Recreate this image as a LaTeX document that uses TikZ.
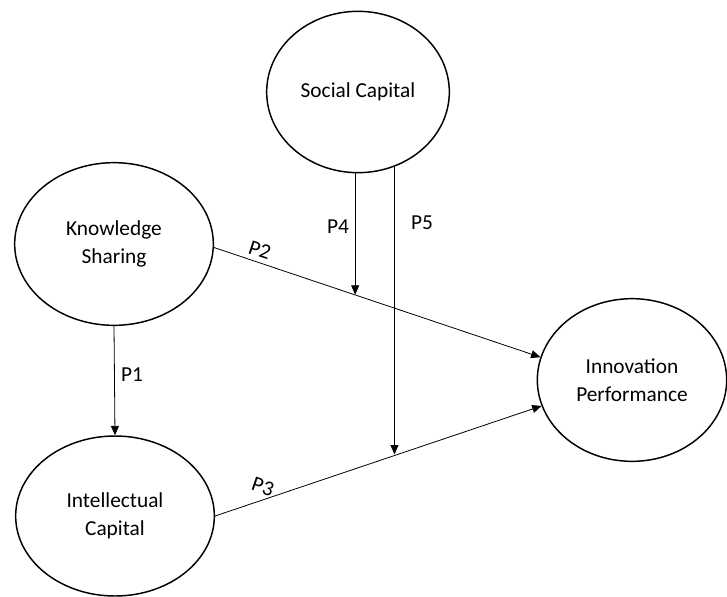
\documentclass[tikz,border=0pt]{standalone}
\usepackage{fontspec}
\setmainfont{Carlito}
\usepackage{tikz}
\usetikzlibrary{shapes.geometric, arrows.meta, positioning, calc}

\begin{document}
\begin{tikzpicture}[
  x=0.75pt, y=-0.75pt,
  every node/.style={font=\fontsize{16}{21}\selectfont},
  construct/.style={ellipse, draw=black, line width=1.1pt, inner sep=0pt,
                    align=center},
  path/.style={line width=0.6pt, -{Triangle[length=7pt,width=6pt]}},
  plabel/.style={inner sep=0pt},
]
\useasboundingbox (0,0) rectangle (727,596);

% ── Constructs ──
\node[construct, minimum width=137pt, minimum height=121pt] (soc) at (358,92)  {Social Capital};
\node[construct, minimum width=149pt, minimum height=122pt] (ks)  at (114,244) {Knowledge\\Sharing};
\node[construct, minimum width=149pt, minimum height=120pt] (ic)  at (115,516) {Intellectual\\Capital};
\node[construct, minimum width=142pt, minimum height=122pt] (ip)  at (632,380) {Innovation\\Performance};

% ── Direct paths ──
\draw[path] (ks.south) -- (ic.north);
\draw[path] (ks.-2) -- (ip.166);
\draw[path] (ic.0) -- (ip.196);

% ── Moderating paths ──
\coordinate (p2mid) at ($(ks.-2)!0.43!(ip.166)$);
\coordinate (p3mid) at ($(ic.0)!0.56!(ip.196)$);
\draw[path] (soc.268) -- (soc.268 |- p2mid);
\draw[path] (soc.296) -- (soc.296 |- p3mid);

% ── Labels ──
\node[plabel] (l1) at (132,375) {P1};
\node[plabel, rotate=-18] (l2) at (260,250) {P2};
\node[plabel, rotate=-19] (l3) at (263,487) {P3};
\node[plabel] (l4) at (338,227) {P4};
\node[plabel] (l5) at (422,223) {P5};

\end{tikzpicture}
\end{document}
